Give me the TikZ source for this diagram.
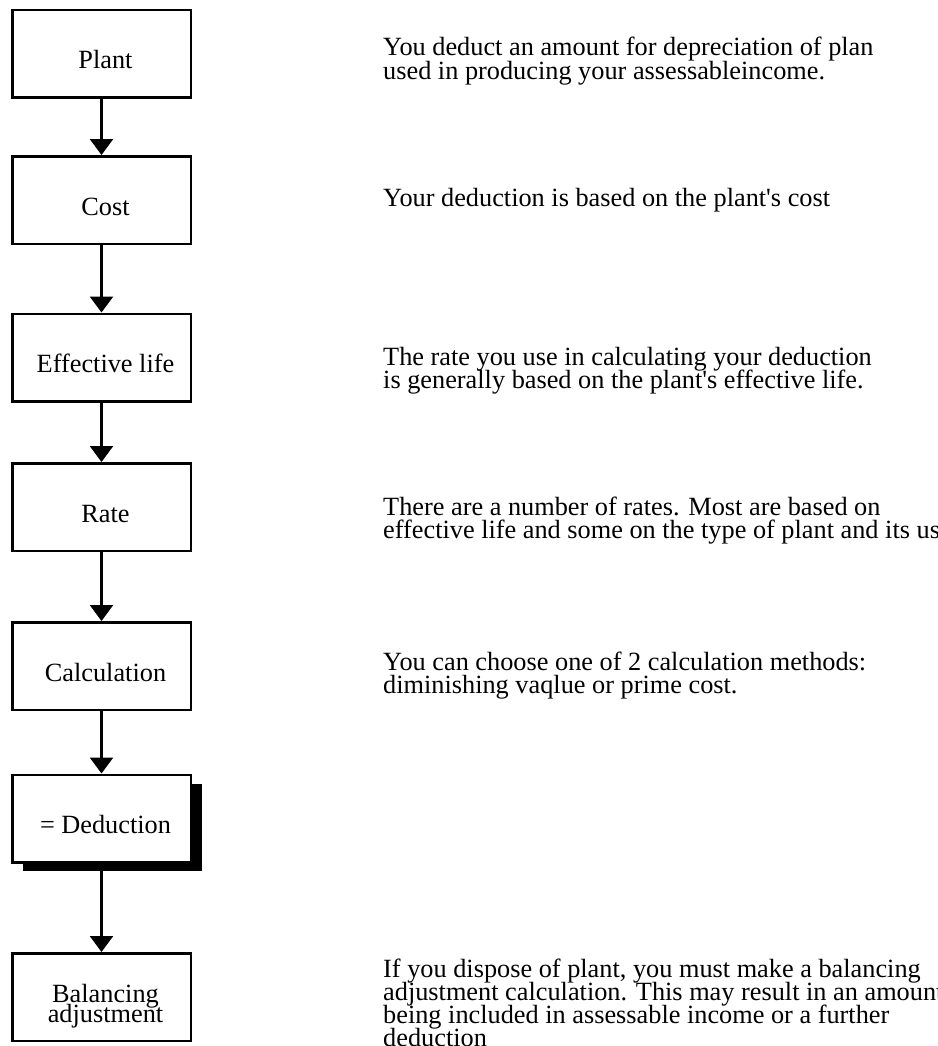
\documentclass[tikz,border=0pt]{standalone}
\usepackage{fontspec}
\setmainfont{Liberation Serif}
\usetikzlibrary{arrows.meta,shadows}
\newcommand\leftlines[2]{\vtop{\baselineskip=#1\lineskiplimit=-1000pt\lineskip=0pt\halign{##\hfil\cr#2\crcr}}}
\newcommand\centerlines[2]{\vtop{\baselineskip=#1\lineskiplimit=-1000pt\lineskip=0pt\halign{\hfil##\hfil\cr#2\crcr}}}
\tikzset{
  stepbox/.style={draw, line width=2.5pt, fill=white, minimum width=178.5pt, minimum height=87.5pt,
    inner sep=0pt, font=\fontsize{26.3}{20.7}\selectfont, text height=30pt, text depth=0pt,
    execute at begin node=\hspace*{8pt}},
  note/.style={anchor=base west, inner sep=0pt, font=\fontsize{26.3}{23.5}\selectfont},
  flow/.style={line width=2.5pt, -{Triangle[width=23pt,length=16pt]}},
  shadowed/.style={drop shadow={shadow xshift=11pt, shadow yshift=-9pt, fill=black, opacity=1}}
}
\begin{document}
\begin{tikzpicture}[x=1pt,y=-1pt]
\useasboundingbox (0,0) rectangle (937,1046);
\fill[white] (0,0) rectangle (937,1046);

\node[stepbox] (plant) at (101.5,54) {Plant};
\node[stepbox] (cost) at (101.5,200) {Cost};
\node[stepbox] (life) at (101.5,357.5) {Effective life};
\node[stepbox] (rate) at (101.5,507) {Rate};
\node[stepbox] (calc) at (101.5,666) {Calculation};
\node[stepbox, shadowed] (ded) at (101.5,818.5) {= Deduction};
\node[stepbox, text depth=20pt] (bal) at (101.5,997) {\centerlines{20.7pt}{Balancing\cr adjustment}};

\draw[flow] (plant) -- (cost);
\draw[flow] (cost) -- (life);
\draw[flow] (life) -- (rate);
\draw[flow] (rate) -- (calc);
\draw[flow] (calc) -- (ded);
\draw[flow] (ded) -- (bal);

\node[note] (n1) at (383,56) {\leftlines{23.5pt}{You deduct an amount for depreciation of plan\cr used in producing your assessableincome.}};
\node[note] (n2) at (383,206) {Your deduction is based on the plant\textquotesingle s cost};
\node[note] (n3) at (383,365) {\leftlines{23.5pt}{The rate you use in calculating your deduction\cr is generally based on the plant\textquotesingle s effective life.}};
\node[note] (n4) at (383,515) {\leftlines{23.5pt}{There are a number of rates. Most are based on\cr effective life and some on the type of plant and its use.}};
\node[note] (n5) at (383,670) {\leftlines{23.5pt}{You can choose one of 2 calculation methods:\cr diminishing vaqlue or prime cost.}};
\node[note] (n6) at (383,977) {\leftlines{23pt}{If you dispose of plant, you must make a balancing\cr adjustment calculation. This may result in an amount\cr being included in assessable income or a further\cr deduction}};
\end{tikzpicture}
\end{document}
